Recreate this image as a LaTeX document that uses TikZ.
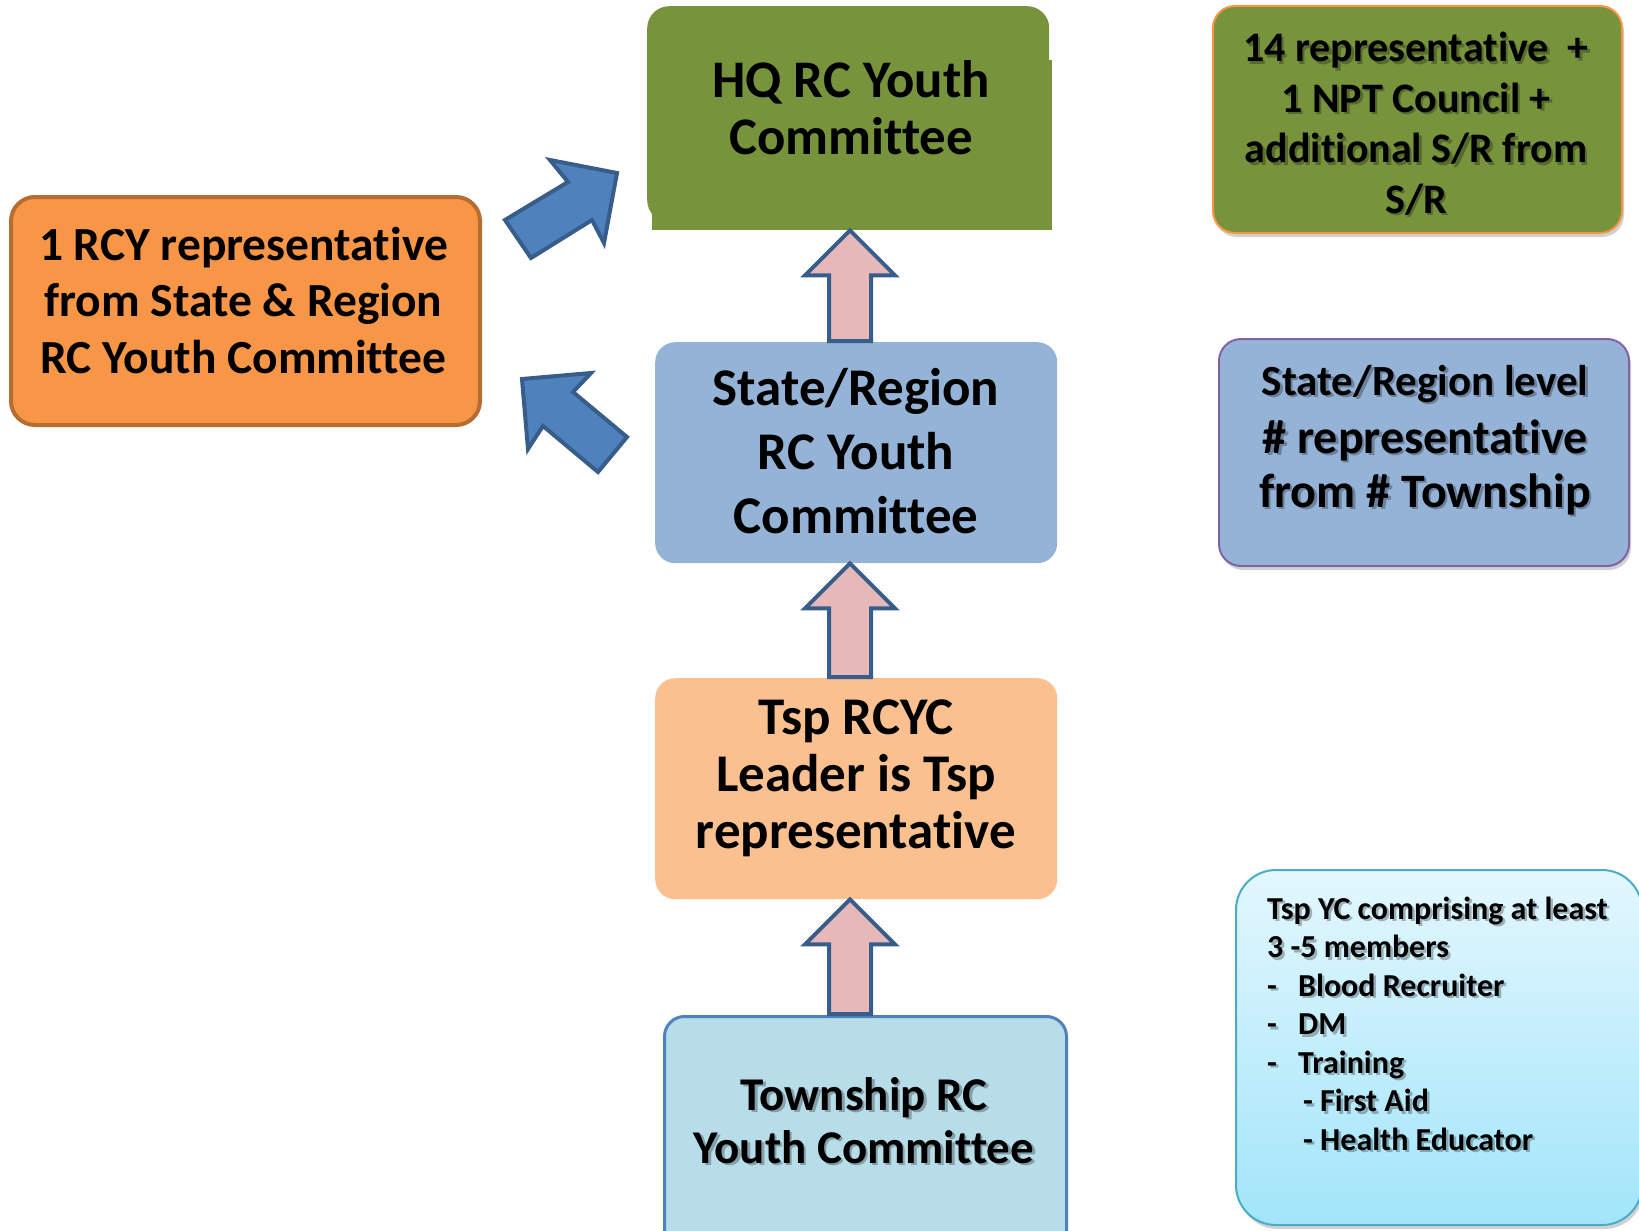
\documentclass[tikz,border=0pt]{standalone}
\usepackage{fontspec}
\setmainfont{Carlito}[Ligatures={NoCommon,NoContextual}]
\usetikzlibrary{calc,shadows}
\definecolor{hqgreen}{HTML}{77933C}
\definecolor{orfill}{HTML}{F79646}
\definecolor{ordraw}{HTML}{B66D31}
\definecolor{srblue}{HTML}{95B3D7}
\definecolor{tspfill}{HTML}{FAC090}
\definecolor{twfill}{HTML}{B7DDE8}
\definecolor{twdraw}{HTML}{4F81BD}
\definecolor{arrfill}{HTML}{4F81BD}
\definecolor{arrdraw}{HTML}{385D8A}
\definecolor{pinkfill}{HTML}{E6B9B8}
\definecolor{purpb}{HTML}{8064A2}
\definecolor{tealb}{HTML}{4BACC6}
\definecolor{lbtop}{HTML}{E3F7FE}
\definecolor{lbbot}{HTML}{A2E5FA}
\newcommand{\myfs}[2]{\fontsize{#1}{#2}\selectfont\bfseries}
\newcommand{\pinkup}[2]{%
  \draw[pinkarr] let \p1=(#1.north), \p2=(#2.south), \p3=(axis) in
    (\x3,\y2) -- (\x3+45pt,\y2-45pt) -- (\x3+21pt,\y2-45pt) -- (\x3+21pt,\y1+1pt)
    -- (\x3-21pt,\y1+1pt) -- (\x3-21pt,\y2-45pt) -- (\x3-45pt,\y2-45pt) -- cycle;}
% text with a soft shadow: #1 name, #2 position, #3 options, #4 text
\newcommand{\shtext}[4]{%
  \node[txt, #3, text=black, opacity=0.28] (#1s) at ($#2+(2.5,2.5)$) {#4};
  \node[txt, #3] (#1) at #2 {#4};}
\tikzset{
  box/.style={rectangle, inner sep=0pt, anchor=north west},
  txt/.style={anchor=base, align=center, inner sep=0pt, text=black},
  pinkarr/.style={fill=pinkfill, draw=arrdraw, line width=4pt, line join=miter},
  bluearr/.style={fill=arrfill, draw=arrdraw, line width=4pt, line join=miter},
  shad/.style={drop shadow={shadow xshift=2pt, shadow yshift=-4pt, opacity=0.3, fill=black!60}}
}
\begin{document}
\begin{tikzpicture}[x=1pt,y=-1pt]
\useasboundingbox (0,0) rectangle (1639,1231);
\clip (0,0) rectangle (1639,1231);
\coordinate (axis) at (850,0);

% HQ box
\node[box, fill=hqgreen, rounded corners=22pt, minimum width=402pt, minimum height=216pt] (hq) at (647,6) {};
\node[box, fill=hqgreen, minimum width=400pt, minimum height=170pt] (hqx) at (652,60) {};
\node[txt, font=\myfs{52.8}{57}] (hqt) at (851,154) {HQ RC Youth\\Committee};

% top-right green box
\node[box, fill=hqgreen, draw=orfill, line width=2pt, rounded corners=22pt, minimum width=409pt, minimum height=227pt, shad] (gr) at (1212,5) {};
\shtext{grt}{(1416,213)}{font=\myfs{42}{50.5}}{14 representative\ \ +\\1 NPT Council +\\additional S/R from\\S/R}

% left orange box
\node[box, fill=orfill, draw=ordraw, line width=4pt, rounded corners=24pt, minimum width=469pt, minimum height=228pt] (org) at (9,195) {};
\node[txt, font=\myfs{47.5}{56.5}] (orgt) at (243.5,373) {1 RCY representative\\from State \& Region\\RC Youth Committee};

% State/Region box
\node[box, fill=srblue, rounded corners=20pt, minimum width=402pt, minimum height=221pt] (sr) at (655,342) {};
\node[txt, font=\myfs{53}{64}] (srt) at (856,533) {State/Region\\RC Youth\\Committee};

% Tsp box
\node[box, fill=tspfill, rounded corners=20pt, minimum width=402pt, minimum height=221pt] (tsp) at (655,678) {};
\node[txt, font=\myfs{53}{56.7}] (tspt) at (856,848) {Tsp RCYC\\Leader is Tsp\\representative};

% Township box
\node[box, fill=twfill, draw=twdraw, line width=3pt, rounded corners=20pt, minimum width=402pt, minimum height=240pt] (tw) at (663,1015) {};
\shtext{twt}{(864,1163)}{font=\myfs{47}{53}}{Township RC\\Youth Committee}

% right blue box
\node[box, fill=srblue, draw=purpb, line width=2pt, rounded corners=22pt, minimum width=410pt, minimum height=227pt, shad] (rb) at (1218,338) {};
\shtext{rbt}{(1425,507)}{font=\myfs{48}{54}}{{\fontsize{43}{54}\selectfont State/Region level}\\[4pt]\# representative\\from \# Township}

% bottom-right light blue box
\node[box, top color=lbtop, bottom color=lbbot, draw=tealb, line width=2pt, rounded corners=40pt, minimum width=406pt, minimum height=355pt, shad] (lb) at (1235,869) {};
\shtext{lbt}{(1267,1150)}{anchor=base west, align=left, font=\myfs{32}{38.5}}
  {Tsp YC comprising at least\\
   3 -5 members\\
   \makebox[31pt][l]{-}Blood Recruiter\\
   \makebox[31pt][l]{-}DM\\
   \makebox[31pt][l]{-}Training\\
   \hspace*{36pt}- First Aid\\
   \hspace*{36pt}- Health Educator}

% pink up arrows
\pinkup{sr}{hqx}
\pinkup{tsp}{sr}
\pinkup{tw}{tsp}

% blue block arrows
\draw[bluearr] (617,173) -- (550,160) -- (568,182) -- (505,220) -- (531,258) -- (592,220) -- (604,243) -- cycle;
\draw[bluearr] (522,379) -- (591,373) -- (573,392) -- (627,437) -- (598,472) -- (543,426) -- (528,449) -- cycle;
\end{tikzpicture}
\end{document}
